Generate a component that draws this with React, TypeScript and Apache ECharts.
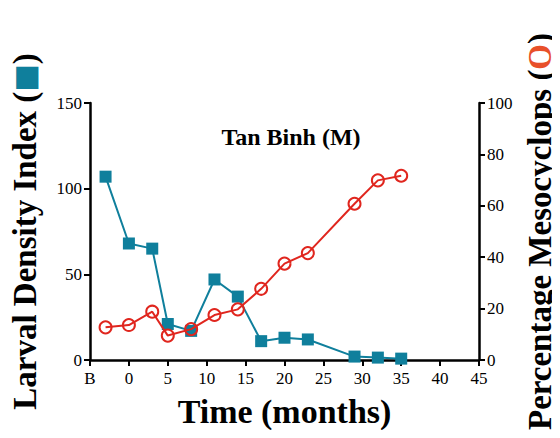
import React, { useEffect, useRef } from "react";
import * as echarts from "echarts";

const months = [-3, 0, 3, 5, 8, 11, 14, 17, 20, 23, 29, 32, 35];
const larvalDensity = [107, 68, 65, 21, 17, 47, 37, 11, 13, 12, 2, 1.4, 0.8];
const percentMesocyclops = [12.7, 13.6, 18.8, 9.5, 12, 17.5, 19.7, 27.7, 37.5, 41.6, 60.8, 69.9, 71.7];
const xTicks = { min: -5, max: 45, interval: 5, baseLabel: "B" };
const chartTitle = "Tan Binh (M)";

const FONT = "'Liberation Serif', 'Times New Roman', serif";
const BLUE = "#0f7f9c";
const RED = "#e0261e";

export default function App() {
  const ref = useRef<HTMLDivElement>(null);
  useEffect(() => {
    const chart = echarts.init(ref.current!, null, { renderer: "svg" });
    const axisLine = { show: true, onZero: false, lineStyle: { color: "#000", width: 2.5 } };
    const axisTick = { show: true, inside: false, length: 6, lineStyle: { color: "#000", width: 2 } };
    const axisLabel = { color: "#000", fontFamily: FONT, fontSize: 17 };
    chart.setOption({
      animation: false,
      backgroundColor: "#fff",
      textStyle: { fontFamily: FONT },
      title: {
        text: chartTitle,
        left: 286,
        textAlign: "center",
        top: 120,
        textStyle: { fontFamily: FONT, fontWeight: "bold", fontSize: 24, color: "#000" },
      },
      grid: { left: 90, right: 81, top: 103, bottom: 78, outerBoundsMode: "none", containLabel: false },
      xAxis: {
        type: "value",
        min: xTicks.min,
        max: xTicks.max,
        interval: xTicks.interval,
        axisLine,
        axisTick,
        splitLine: { show: false },
        axisLabel: {
          ...axisLabel,
          margin: 10,
          formatter: (v: number) => (v === xTicks.min ? xTicks.baseLabel : String(v)),
        },
        name: "Time (months)",
        nameLocation: "middle",
        nameGap: 34,
        nameTextStyle: { fontFamily: FONT, fontWeight: "bold", fontSize: 34, color: "#000" },
      },
      yAxis: [
        {
          type: "value",
          min: 0,
          max: 150,
          interval: 50,
          position: "left",
          axisLine,
          axisTick,
          splitLine: { show: false },
          axisLabel: { ...axisLabel, margin: 8 },
          name: "Larval Density Index ({sq|■})",
          nameLocation: "middle",
          nameRotate: 90,
          nameGap: 49,
          nameTextStyle: {
            fontFamily: FONT,
            fontWeight: "bold",
            fontSize: 33,
            color: "#000",
            rich: { sq: { color: BLUE, fontSize: 29, fontFamily: "DejaVu Sans" } },
          },
        },
        {
          type: "value",
          min: 0,
          max: 100,
          interval: 20,
          position: "right",
          axisLine,
          axisTick,
          splitLine: { show: false },
          axisLabel: { ...axisLabel, margin: 8 },
          name: "Percentage Mesocyclops ({o|O})",
          nameLocation: "middle",
          nameRotate: 90,
          nameGap: 39,
          nameTextStyle: {
            fontFamily: FONT,
            fontWeight: "bold",
            fontSize: 33,
            color: "#000",
            rich: { o: { color: "#e8502a", fontSize: 33, fontFamily: FONT, fontWeight: "bold" } },
          },
        },
      ],
      series: [
        {
          type: "line",
          yAxisIndex: 0,
          data: months.map((m, i) => [m, larvalDensity[i]]),
          symbol: "rect",
          symbolSize: 12,
          lineStyle: { color: BLUE, width: 2 },
          itemStyle: { color: BLUE },
          z: 2,
        },
        {
          type: "line",
          yAxisIndex: 1,
          data: months.map((m, i) => [m, percentMesocyclops[i]]),
          symbol: "circle",
          symbolSize: 12,
          showSymbol: true,
          lineStyle: { color: RED, width: 2 },
          itemStyle: { color: "transparent", borderColor: RED, borderWidth: 2 },
          z: 3,
        },
      ],
    });
    return () => chart.dispose();
  }, []);
  return <div ref={ref} style={{ width: 560, height: 438, margin: -8 }} />;
}
